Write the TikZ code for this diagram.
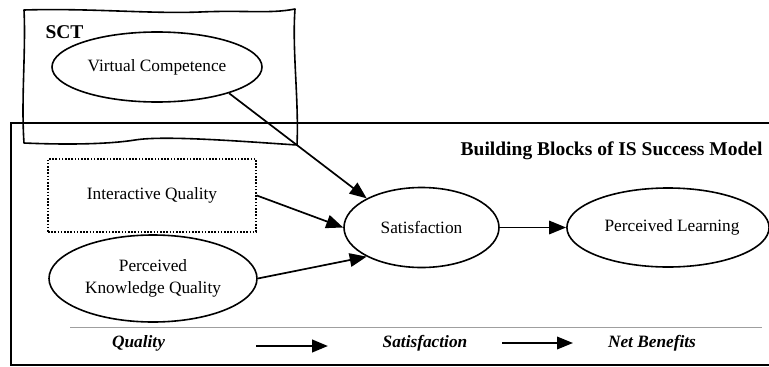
\documentclass[tikz,border=0pt]{standalone}
\usepackage{fontspec}
\setmainfont{Liberation Serif}
\usetikzlibrary{shapes.geometric,arrows.meta}

\tikzset{
  construct/.style={draw, ellipse, line width=1.6pt, inner sep=0pt, align=center,
    font=\fontsize{17.3}{21.5}\selectfont},
  dotbox/.style={draw, line width=1.7pt, dash pattern=on 1.6pt off 1.6pt, inner sep=0pt,
    font=\fontsize{17.3}{21.5}\selectfont},
  link/.style={line width=1.7pt, -{Triangle[length=17pt,width=13.5pt]}},
  flow/.style={-{Triangle[length=16pt,width=12.5pt]}},
  stage/.style={font=\fontsize{17.3}{21}\selectfont\bfseries\itshape, anchor=base},
  heading/.style={font=\fontsize{19.5}{22}\selectfont\bfseries},
}

\begin{document}
\begin{tikzpicture}[x=1pt, y=-1pt]
\useasboundingbox (0,0) rectangle (769,367);

% outer frame of the IS success building blocks (open to the right)
\draw[line width=1.8pt] (780,123) -- (11,123) -- (11,365) -- (780,365);

% hand-drawn SCT frame
\draw[line width=1.6pt, line join=round]
  (24,10) .. controls (90,8) and (150,14) .. (200,12)
          .. controls (245,10) and (270,14) .. (295,9)
          .. controls (292,50) and (299,100) .. (297,145)
          .. controls (250,142) and (165,135) .. (135,140)
          .. controls (110,144) and (70,145) .. (24,143)
          .. controls (21,100) and (26,50) .. (24,10) -- cycle;

\node[heading, anchor=base west] (sct) at (42,38) {SCT};
\node[heading, anchor=base east] (bb) at (766,155) {Building Blocks of IS Success Model};

% constructs
\node[construct, minimum width=210pt, minimum height=70pt] (vc) at (157,67) {Virtual Competence};
\node[dotbox, minimum width=208pt, minimum height=73pt] (iq) at (152,195.5) {Interactive Quality};
\node[construct, minimum width=208pt, minimum height=87pt] (pkq) at (153,278.5) {Perceived\\Knowledge Quality};
\node[construct, minimum width=155pt, minimum height=80pt] (sat) at (421.5,227.5) {Satisfaction};
\node[construct, minimum width=200pt, minimum height=79pt] (pl) at (668,227.5) {\hspace*{8pt}Perceived Learning};

% paths
\draw[link] (vc.-20) -- (sat.152);
\draw[link] (iq.east) -- (sat.west);
\draw[link] (pkq.east) -- (sat.208);
\draw[link] (sat.east) -- (pl.west);

% legend strip
\coordinate (ruleL) at (70,327.5);
\coordinate (ruleR) at (762,327.5);
\draw[gray!75, line width=1pt] (ruleL) -- (ruleR);

\node[stage] (q) at (138.5,347.5) {Quality};
\node[stage] (s) at (425,347.5) {Satisfaction};
\node[stage] (nb) at (652,347.5) {Net Benefits};

\coordinate (a1s) at (256,346);
\coordinate (a1e) at (328,346);
\coordinate (a2s) at (502,343);
\coordinate (a2e) at (573,343);
\draw[flow, line width=2.6pt] (a1s) -- (a1e);
\draw[flow, line width=2pt] (a2s) -- (a2e);
\end{tikzpicture}
\end{document}
